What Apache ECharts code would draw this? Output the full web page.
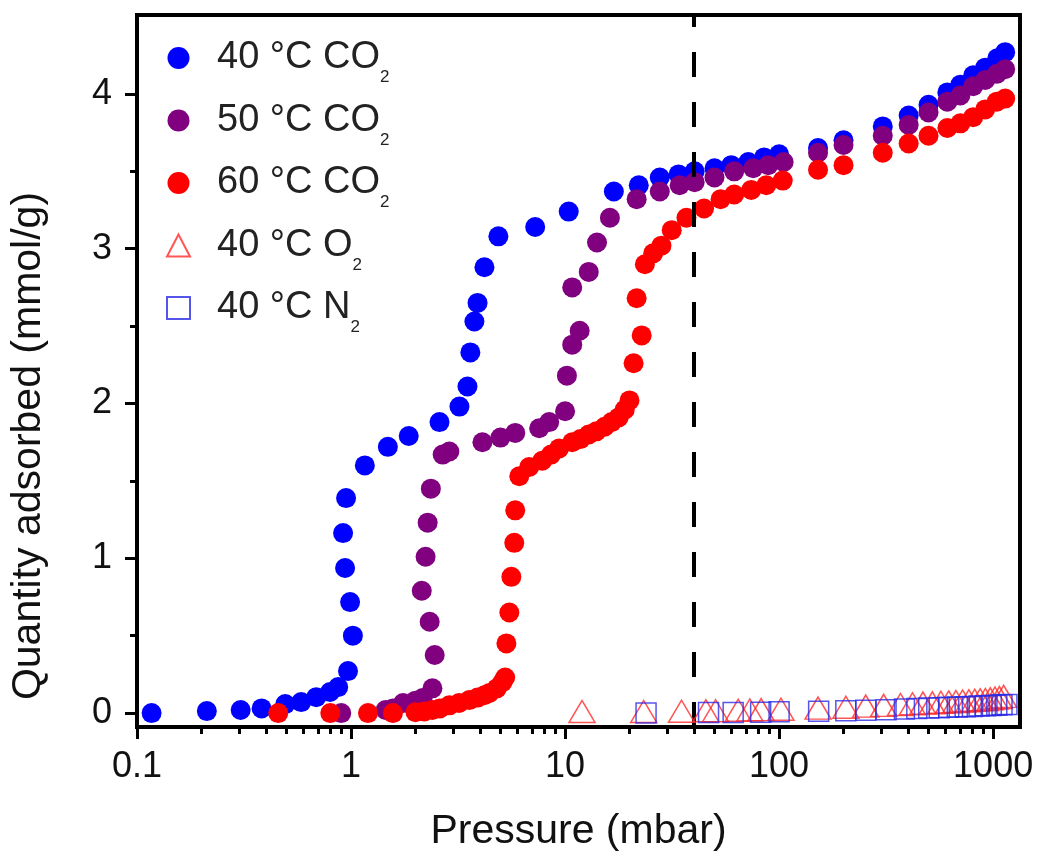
<!DOCTYPE html>
<html>
<head>
<meta charset="utf-8">
<script src="https://cdn.jsdelivr.net/npm/echarts@6/dist/echarts.min.js"></script>
<style>html,body{margin:0;padding:0;background:#fff}#c{width:1050px;height:866px}</style>
</head>
<body>
<div id="c"></div>
<script>
// ---- data (pressure in mbar, quantity in mmol/g) ----
const co2_40_p = [0.117,0.212,0.305,0.382,0.493,0.585,0.688,0.798,0.871,0.968,1.02,0.99,0.938,0.918,0.948,1.16,1.486,1.86,2.59,3.21,3.50,3.61,3.77,3.90,4.20,4.88,7.25,10.4,16.9,22.1,27.7,33.9,40.3,49.9,59.8,71.8,85.1,100,152,200,305,403,499,611,703,807,918,1045,1138];
const co2_40_q = [0,0.013,0.02,0.03,0.058,0.071,0.103,0.136,0.168,0.271,0.50,0.717,0.937,1.163,1.389,1.60,1.72,1.79,1.88,1.98,2.11,2.33,2.53,2.65,2.88,3.08,3.14,3.24,3.37,3.41,3.46,3.48,3.50,3.52,3.54,3.56,3.59,3.61,3.65,3.70,3.79,3.86,3.93,4.01,4.06,4.12,4.17,4.23,4.27];

const co2_50_p = [0.90,1.45,1.57,1.75,2.00,2.16,2.40,2.46,2.33,2.14,2.23,2.28,2.36,2.68,2.88,4.11,4.99,5.85,7.57,8.43,10.0,10.2,10.8,11.7,10.8,12.9,14.1,16.2,21.6,27.7,34.3,40.3,49.9,61.7,75.7,89,105,152,200,305,403,499,611,703,807,918,1040,1138];
const co2_50_q = [0,0.02,0.03,0.065,0.08,0.097,0.16,0.375,0.59,0.79,1.01,1.23,1.45,1.67,1.69,1.75,1.78,1.81,1.84,1.88,1.95,2.18,2.38,2.47,2.75,2.85,3.04,3.20,3.32,3.37,3.41,3.43,3.46,3.50,3.52,3.54,3.56,3.62,3.67,3.73,3.80,3.88,3.95,3.99,4.05,4.09,4.13,4.16];

const co2_60_p = [0.457,0.80,1.20,1.57,2.0,2.2,2.4,2.6,2.88,3.2,3.57,3.9,4.2,4.43,4.8,5.1,5.25,5.32,5.49,5.61,5.79,5.85,6.11,6.80,7.82,8.6,9.38,10.8,11.8,12.9,14.0,15.3,16.5,17.8,19.0,20.0,20.9,21.6,22.8,23.6,25.8,28.2,31.5,36.9,44.6,53.3,61.7,74.1,87.1,104,152,200,305,403,499,611,703,807,918,1040,1138];
const co2_60_q = [0,0,0,0,0.005,0.01,0.02,0.03,0.05,0.065,0.084,0.1,0.115,0.13,0.16,0.2,0.23,0.45,0.65,0.88,1.10,1.31,1.53,1.59,1.63,1.67,1.71,1.75,1.77,1.80,1.82,1.85,1.88,1.91,1.96,2.02,2.26,2.68,2.44,2.90,2.97,3.02,3.12,3.20,3.26,3.32,3.35,3.38,3.41,3.44,3.51,3.54,3.62,3.68,3.73,3.78,3.81,3.85,3.90,3.95,3.97];

const o2_40_p = [12,23.3,35,45.5,50.5,64.4,73,82.4,102,152,205,254,308,369,420,470,520,570,620,670,720,770,820,870,920,970,1020,1070,1120];
const o2_40_q = [0.01,0.01,0.012,0.015,0.015,0.018,0.02,0.022,0.025,0.032,0.038,0.045,0.05,0.055,0.06,0.064,0.066,0.07,0.072,0.075,0.078,0.08,0.083,0.086,0.088,0.092,0.097,0.1,0.108];

const n2_40_p = [23.9,46.8,61,82,100,153,205,254,316,385,440,500,560,620,680,740,800,860,920,980,1040,1100,1160];
const n2_40_q = [0,0.003,0.004,0.006,0.008,0.012,0.015,0.018,0.022,0.026,0.029,0.032,0.034,0.037,0.039,0.041,0.043,0.045,0.047,0.049,0.051,0.053,0.055];

const seriesNames = ['40 °C CO2','50 °C CO2','60 °C CO2','40 °C O2','40 °C N2'];
const xMajorTicks = [0.1,1,10,100,1000];
const xMinorTicks = [0.2,0.3,0.4,0.5,0.6,0.7,0.8,0.9,2,3,4,5,6,7,8,9,20,30,40,50,60,70,80,90,200,300,400,500,600,700,800,900];
const yMajorTicks = [0,1,2,3,4];
const yMinorTicks = [0.5,1.5,2.5,3.5];
const dashedAt = 40;

// ---- chart ----
const zip = (p, q) => p.map((v, i) => [v, q[i]]);
const FONT = 'Liberation Sans, Arial, Helvetica, sans-serif';
const chart = echarts.init(document.getElementById('c'), null, {renderer: 'canvas'});

const xRange = {min: 0.1, max: 1335};
const yRange = {min: -0.09, max: 4.51};

const legendFmt = name => {
  const m = name.match(/^(.*)(\d)$/);
  return '{a|' + m[1] + '}{s|' + m[2] + '}';
};

chart.setOption({
  animation: false,
  backgroundColor: '#fff',
  grid: {left: 133, right: 30, top: 15, bottom: 139, show: true, borderColor: '#000', borderWidth: 4, backgroundColor: 'transparent'},
  legend: {
    data: seriesNames,
    orient: 'vertical',
    left: 161, top: 34,
    itemWidth: 23, itemHeight: 22, itemGap: 15.5,
    formatter: legendFmt,
    textStyle: {
      color: '#222', fontFamily: FONT,
      rich: {
        a: {fontSize: 38, lineHeight: 56, fontFamily: FONT, color: '#222', padding: [0, 0, 0, 22]},
        s: {fontSize: 17, lineHeight: 5, verticalAlign: 'bottom', fontFamily: FONT, color: '#222'}
      }
    }
  },
  xAxis: [{
    type: 'log', logBase: 10, min: xRange.min, max: xRange.max,
    position: 'bottom',
    name: 'Pressure (mbar)', nameLocation: 'middle', nameGap: 84,
    nameTextStyle: {fontSize: 41, fontFamily: FONT, color: '#111'},
    axisLine: {show: true, onZero: false, lineStyle: {color: '#000', width: 4}},
    axisTick: {show: true, inside: false, length: 12, lineStyle: {color: '#000', width: 3}, customValues: xMajorTicks},
    axisLabel: {show: true, margin: 22, fontSize: 36, fontFamily: FONT, color: '#111', customValues: xMajorTicks,
      formatter: v => String(+Number(v).toPrecision(3))},
    splitLine: {show: false}, minorTick: {show: false}
  }, {
    type: 'log', logBase: 10, min: xRange.min, max: xRange.max,
    position: 'bottom',
    axisLine: {show: false, onZero: false},
    axisTick: {show: true, inside: false, length: 7, lineStyle: {color: '#000', width: 3}, customValues: xMinorTicks},
    axisLabel: {show: false},
    splitLine: {show: false}
  }],
  yAxis: [{
    type: 'value', min: yRange.min, max: yRange.max,
    position: 'left',
    name: 'Quantity adsorbed (mmol/g)', nameLocation: 'middle', nameGap: 88, nameRotate: 90,
    nameTextStyle: {fontSize: 41, fontFamily: FONT, color: '#111', padding: [0, 150, 0, 0]},
    axisLine: {show: true, onZero: false, lineStyle: {color: '#000', width: 4}},
    axisTick: {show: true, inside: false, length: 12, lineStyle: {color: '#000', width: 3}, customValues: yMajorTicks},
    axisLabel: {show: true, margin: 25, fontSize: 36, fontFamily: FONT, color: '#111', customValues: yMajorTicks},
    splitLine: {show: false}
  }, {
    type: 'value', min: yRange.min, max: yRange.max,
    position: 'left',
    axisLine: {show: false, onZero: false},
    axisTick: {show: true, inside: false, length: 7, lineStyle: {color: '#000', width: 3}, customValues: yMinorTicks},
    axisLabel: {show: false},
    splitLine: {show: false}
  }],
  series: [
    {name: seriesNames[0], type: 'scatter', xAxisIndex: 0, yAxisIndex: 0, symbol: 'circle', symbolSize: 20,
     itemStyle: {color: '#0000ff', opacity: 1}, data: zip(co2_40_p, co2_40_q), z: 2,
     markLine: {silent: true, symbol: 'none', label: {show: false}, animation: false,
       lineStyle: {color: '#000', width: 4, type: [25, 25], dashOffset: 0},
       data: [{xAxis: dashedAt}]}},
    {name: seriesNames[1], type: 'scatter', xAxisIndex: 0, yAxisIndex: 0, symbol: 'circle', symbolSize: 20,
     itemStyle: {color: '#800080', opacity: 1}, data: zip(co2_50_p, co2_50_q), z: 3},
    {name: seriesNames[2], type: 'scatter', xAxisIndex: 0, yAxisIndex: 0, symbol: 'circle', symbolSize: 20,
     itemStyle: {color: '#ff0000', opacity: 1}, data: zip(co2_60_p, co2_60_q), z: 4},
    {name: seriesNames[3], type: 'scatter', xAxisIndex: 0, yAxisIndex: 0, symbol: 'triangle', symbolSize: [26, 22],
     itemStyle: {color: 'rgba(255,255,255,0)', borderColor: '#ff2a2a', borderWidth: 1.5}, data: zip(o2_40_p, o2_40_q), z: 5},
    {name: seriesNames[4], type: 'scatter', xAxisIndex: 0, yAxisIndex: 0, symbol: 'rect', symbolSize: 20,
     itemStyle: {color: 'rgba(255,255,255,0)', borderColor: '#2a2ae6', borderWidth: 1.5}, data: zip(n2_40_p, n2_40_q), z: 6}
  ]
});
</script>
</body>
</html>
